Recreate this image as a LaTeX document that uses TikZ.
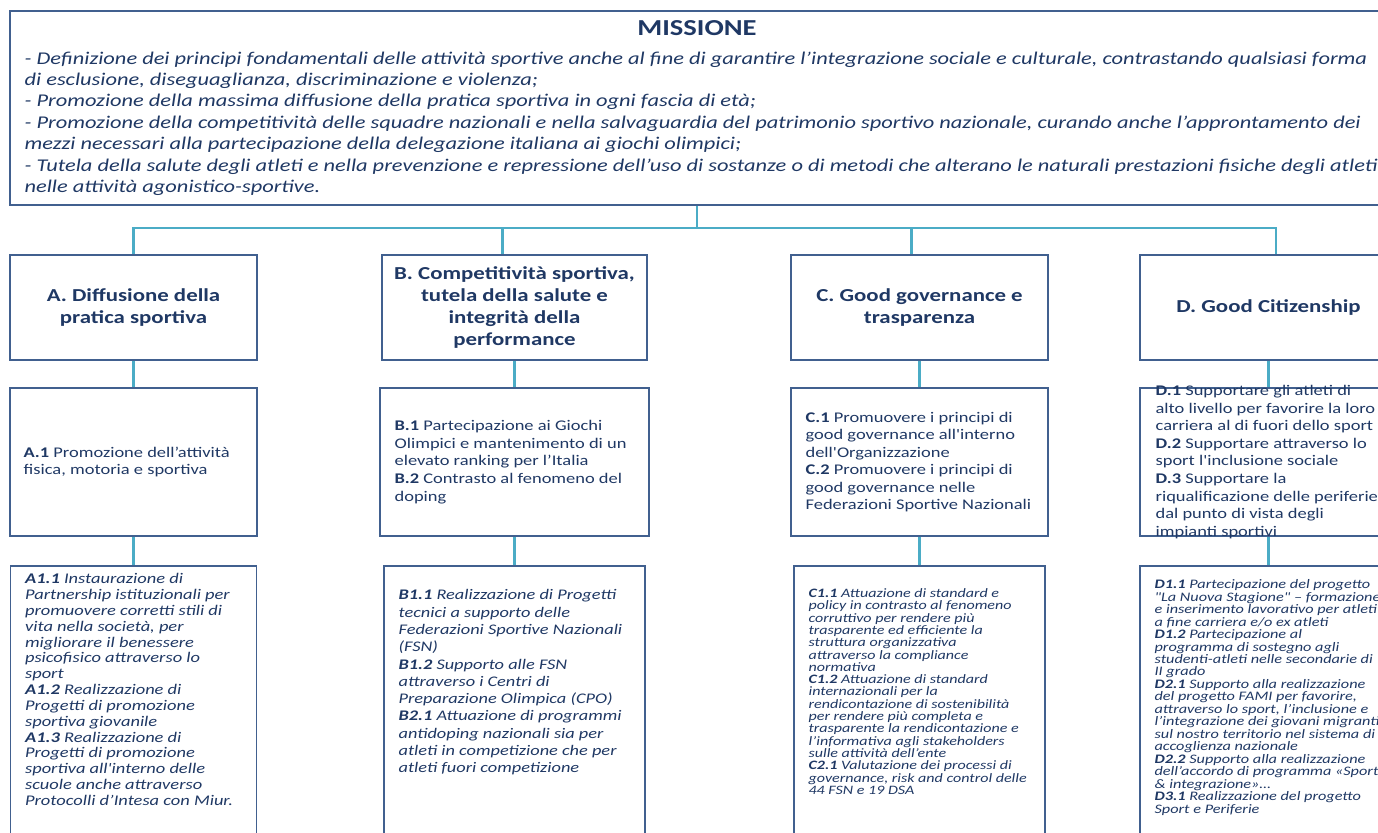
\documentclass[tikz,border=0pt]{standalone}
\usepackage{fontspec}
\defaultfontfeatures[\rmfamily]{}
\setmainfont{Carlito}[FakeStretch=1.25]
\usetikzlibrary{positioning}
\definecolor{navy}{HTML}{1F3864}
\definecolor{frame}{HTML}{41608F}
\definecolor{linkcol}{HTML}{4BACC6}
\setlength{\lineskiplimit}{-5pt}
\begin{document}
\begin{tikzpicture}[
	box/.style={draw=frame, line width=0.85pt},
	area/.style={box, text=navy, minimum height=2.1cm, align=center, font=\bfseries\fontsize{10.4}{12.7}\selectfont},
	goal/.style={box, minimum height=2.96cm},
	action/.style={box, minimum height=5.68cm},
	goaltext/.style={inner sep=0, text=navy, align=left, font=\fontsize{8.4}{10}\selectfont},
	acttext/.style={inner sep=0, text=navy, align=left},
	link/.style={draw=linkcol, line width=1.6pt}]
	\useasboundingbox (0,0) rectangle (27.56,-16.66);
	\clip (0,0) rectangle (27.56,-16.66);
	
	\node[box, minimum width=27.48cm, minimum height=3.88cm](mission) at (13.94,-2.16){};
	\node[below=0.2cm of mission.north, inner sep=0, text=navy, font=\bfseries\fontsize{13}{15}\selectfont](title){MISSIONE};
	\node[below right=0.82cm and 0.3cm of mission.north west, inner sep=0, text=navy, align=left, font=\itshape\fontsize{10.2}{12.2}\selectfont](aims){%
		- Definizione dei principi fondamentali delle attività sportive anche al fine di garantire l’integrazione sociale e culturale, contrastando qualsiasi forma\\
		di esclusione, diseguaglianza, discriminazione e violenza;\\
		- Promozione della massima diffusione della pratica sportiva in ogni fascia di età;\\
		- Promozione della competitività delle squadre nazionali e nella salvaguardia del patrimonio sportivo nazionale, curando anche l’approntamento dei\\
		mezzi necessari alla partecipazione della delegazione italiana ai giochi olimpici;\\
		- Tutela della salute degli atleti e nella prevenzione e repressione dell’uso di sostanze o di metodi che alterano le naturali prestazioni fisiche degli atleti\\
		nelle attività agonistico-sportive.};
	
	\coordinate[below of=mission, node distance=2.4cm](hub);
	
	% aree strategiche
	\node[area, minimum width=4.94cm](A) at (2.67,-6.15){A. Diffusione della\\ pratica sportiva};
	\node[area, minimum width=5.3cm, right of=A, node distance=7.62cm](B){B. Competitività sportiva,\\ tutela della salute e\\ integrità della\\ performance};
	\node[area, minimum width=5.14cm, right of=B, node distance=8.1cm](C){C. Good governance e\\ trasparenza};
	\node[area, minimum width=5.14cm, right of=C, node distance=6.98cm](D){D. Good Citizenship};
	
	\draw[link] (mission) -- (hub);
	\draw[link] (hub) -| (A);
	\draw[link] (hub) -| ([xshift=-0.24cm]B.north);
	\draw[link] (hub) -| ([xshift=-0.16cm]C.north);
	\draw[link] (hub) -| ([xshift=0.15cm]D.north);
	
	% obiettivi
	\node[goal, minimum width=4.94cm, below of=A, node distance=3.09cm](A2){};
	\node[goal, minimum width=5.38cm, below of=B, node distance=3.09cm](B2){};
	\node[goal, minimum width=5.14cm, below of=C, node distance=3.09cm](C2){};
	\node[goal, minimum width=5.14cm, below of=D, node distance=3.09cm](D2){};
	
	\node[goaltext, right=0.28cm of A2.west](A2t){\textbf{A.1} Promozione dell’attività\\ fisica, motoria e sportiva};
	\node[goaltext, right=0.3cm of B2.west](B2t){\textbf{B.1} Partecipazione ai Giochi\\ Olimpici e mantenimento di un\\ elevato ranking per l’Italia\\ \textbf{B.2} Contrasto al fenomeno del\\ doping};
	\node[goaltext, right=0.3cm of C2.west](C2t){\textbf{C.1} Promuovere i principi di\\ good governance all'interno\\ dell'Organizzazione\\ \textbf{C.2} Promuovere i principi di\\ good governance nelle\\ Federazioni Sportive Nazionali};
	\node[goaltext, right=0.32cm of D2.west](D2t){\textbf{D.1} Supportare gli atleti di\\ alto livello per favorire la loro\\ carriera al di fuori dello sport\\ \textbf{D.2} Supportare attraverso lo\\ sport l'inclusione sociale\\ \textbf{D.3} Supportare la\\ riqualificazione delle periferie\\ dal punto di vista degli\\ impianti sportivi};
	
	\draw[link] (A) -- (A2);
	\draw[link] (B) -- (B2);
	\draw[link] (C) -- (C2);
	\draw[link] (D) -- (D2);
	
	% azioni
	\node[action, minimum width=4.92cm, below of=A2, node distance=4.92cm](A3){};
	\node[action, minimum width=5.22cm, below of=B2, node distance=4.92cm](B3){};
	\node[action, minimum width=5.02cm, below of=C2, node distance=4.92cm](C3){};
	\node[action, minimum width=5.14cm, below of=D2, node distance=4.92cm](D3){};
	
	\node[acttext, below right=0.16cm and 0.3cm of A3.north west, font=\itshape\fontsize{8.4}{9}\selectfont](A3t){\textbf{A1.1} Instaurazione di\\ Partnership istituzionali per\\ promuovere corretti stili di\\ vita nella società, per\\ migliorare il benessere\\ psicofisico attraverso lo\\ sport\\ \textbf{A1.2} Realizzazione di\\ Progetti di promozione\\ sportiva giovanile\\ \textbf{A1.3} Realizzazione di\\ Progetti di promozione\\ sportiva all'interno delle\\ scuole anche attraverso\\ Protocolli d’Intesa con Miur.};
	\node[acttext, below right=0.48cm and 0.3cm of B3.north west, font=\itshape\fontsize{8.35}{9.85}\selectfont](B3t){\textbf{B1.1} Realizzazione di Progetti\\ tecnici a supporto delle\\ Federazioni Sportive Nazionali\\ (FSN)\\ \textbf{B1.2} Supporto alle FSN\\ attraverso i Centri di\\ Preparazione Olimpica (CPO)\\ \textbf{B2.1} Attuazione di programmi\\ antidoping nazionali sia per\\ atleti in competizione che per\\ atleti fuori competizione};
	\node[acttext, below right=0.46cm and 0.3cm of C3.north west, font=\itshape\fontsize{7.3}{7}\selectfont](C3t){\textbf{C1.1} Attuazione di standard e\\ policy in contrasto al fenomeno\\ corruttivo per rendere più\\ trasparente ed efficiente la\\ struttura organizzativa\\ attraverso la compliance\\ normativa\\ \textbf{C1.2} Attuazione di standard\\ internazionali per la\\ rendicontazione di sostenibilità\\ per rendere più completa e\\ trasparente la rendicontazione e\\ l’informativa agli stakeholders\\ sulle attività dell’ente\\ \textbf{C2.1} Valutazione dei processi di\\ governance, risk and control delle\\ 44 FSN e 19 DSA};
	\node[acttext, below right=0.28cm and 0.3cm of D3.north west, font=\itshape\fontsize{7.4}{7.1}\selectfont](D3t){\textbf{D1.1} Partecipazione del progetto\\ "La Nuova Stagione" – formazione\\ e inserimento lavorativo per atleti\\ a fine carriera e/o ex atleti\\ \textbf{D1.2} Partecipazione al\\ programma di sostegno agli\\ studenti-atleti nelle secondarie di\\ II grado\\ \textbf{D2.1} Supporto alla realizzazione\\ del progetto FAMI per favorire,\\ attraverso lo sport, l’inclusione e\\ l’integrazione dei giovani migranti\\ sul nostro territorio nel sistema di\\ accoglienza nazionale\\ \textbf{D2.2} Supporto alla realizzazione\\ dell’accordo di programma «Sport\\ \& integrazione»…\\ \textbf{D3.1} Realizzazione del progetto\\ Sport e Periferie};
	
	\draw[link] (A2) -- (A3);
	\draw[link] (B2) -- (B3);
	\draw[link] (C2) -- (C3);
	\draw[link] (D2) -- (D3);
\end{tikzpicture}
\end{document}
